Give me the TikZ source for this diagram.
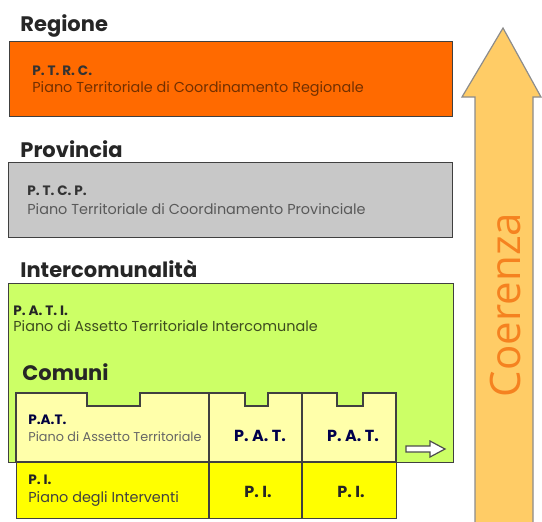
\documentclass[tikz,border=0pt]{standalone}
\usepackage{fontspec}
\setmainfont{Poppins}
\newfontfamily\arrowfont{Open Sans}
\usetikzlibrary{positioning,calc}

\definecolor{regcol}{HTML}{FF6A00}
\definecolor{provcol}{HTML}{C8C8C8}
\definecolor{intercol}{HTML}{CCFF66}
\definecolor{patcol}{HTML}{FFFFAA}
\definecolor{picol}{HTML}{FFFF00}
\definecolor{coercol}{HTML}{FFCC66}
\definecolor{coertext}{HTML}{F58220}

\tikzset{
  livello/.style={font=\fontsize{10.5}{12}\selectfont\bfseries, anchor=base west, inner sep=0pt, text=black!85},
  pianobox/.style={draw=black!75, line width=0.6pt, anchor=north west, inner sep=0pt},
  sigla/.style={font=\fontsize{6.8}{7}\selectfont\bfseries, anchor=base west, inner sep=0pt},
  nome/.style={font=\fontsize{7.2}{8}\selectfont, anchor=base west, inner sep=0pt},
  siglac/.style={font=\fontsize{8}{9}\selectfont\bfseries, inner sep=0pt}
}

\begin{document}
\begin{tikzpicture}[x=0.5pt,y=-0.5pt]
    \useasboundingbox (0,0) rectangle (542,521);
    %Livelli - regione, provincia, intercomunale%
    %===========================================================
    \node[livello] (regione) at (20,31) {Regione};
    \node[pianobox, fill=regcol, minimum width=443*0.5pt, minimum height=75*0.5pt] (ptrc) at (9,41) {};
    \node[sigla, text=black!80] (ptrcsigla) at (32,75) {P. T. R. C.};
    \node[nome, text=regcol!45!black] (ptrcnome) at (32,92) {Piano Territoriale di Coordinamento Regionale};

    \node[livello] (provincia) at (20,157) {Provincia};
    \node[pianobox, fill=provcol, minimum width=444*0.5pt, minimum height=75*0.5pt] (ptcp) at (8,162) {};
    \node[sigla, text=black!80] (ptcpsigla) at (27,195) {P. T. C. P.};
    \node[nome, text=black!65] (ptcpnome) at (27,214) {Piano Territoriale di Coordinamento Provinciale};

    \node[livello] (intercom) at (20,277) {Intercomunalità};
    \node[pianobox, fill=intercol, minimum width=445*0.5pt, minimum height=179*0.5pt] (pati) at (8,283) {};
    \node[sigla, text=black!85] (patisigla) at (13,315) {P. A. T. I.};
    \node[nome, text=intercol!30!black] (patinome) at (13,331) {Piano di Assetto Territoriale Intercomunale};

    %Comuni - riga P.A.T. con le tacche%
    %===========================================================
    \node[livello] (comuni) at (22,380) {Comuni};
    \draw[fill=patcol, draw=black!75, line width=0.6pt] (16,393) -- (87,393) -- (87,406) -- (140,406) -- (140,393)
        -- (245,393) -- (245,406) -- (268,406) -- (268,393) -- (337,393) -- (337,406) -- (363,406) -- (363,393)
        -- (396,393) -- (396,462) -- (16,462) -- cycle;
    \node[pianobox, fill=picol, minimum width=380*0.5pt, minimum height=56*0.5pt] (pi) at (16,462) {};
    \draw[black!75, line width=0.6pt] (209,393) -- (209,518);
    \draw[black!75, line width=0.6pt] (302,393) -- (302,518);

    \node[sigla, text=black!75!blue] (patsigla) at (28,424) {P.A.T.};
    \node[nome, text=black!60, font=\fontsize{6.4}{7}\selectfont] (patnome) at (28,441) {Piano di Assetto Territoriale};
    \node[siglac, text=black!70!blue] (pat2) at (260,436) {P. A. T.};
    \node[siglac, text=black!70!blue] (pat3) at (353,436) {P. A. T.};

    \node[sigla, text=black!85] (pisigla) at (28,484) {P. I.};
    \node[nome, text=black!75] (pinome) at (28,502) {Piano degli Interventi};
    \node[siglac, text=black!85] (pi2) at (258,492) {P. I.};
    \node[siglac, text=black!85] (pi3) at (351,492) {P. I.};

    %Freccia vuota verso destra
    \coordinate (frecciaA) at (406,449);
    \coordinate (frecciaB) at (445,449);
    \draw[black!70, line width=0.6pt, fill=white] (frecciaA) ++(0,-3) -- ++(24,0) -- ++(0,-5) -- (frecciaB) -- ++(-15,8) -- ++(0,-5) -- ++(-24,0) -- cycle;

    %Freccia della coerenza%
    %===========================================================
    \draw[fill=coercol, draw=black!45, line width=0.6pt] (475,525) -- (475,97) -- (462,97) -- (503,28) -- (541,97)
        -- (533,97) -- (533,525) -- cycle;
    \node[rotate=90, font=\arrowfont\fontsize{21}{22}\selectfont, text=coertext] (coerenza) at (505,305) {Coerenza};
\end{tikzpicture}
\end{document}
